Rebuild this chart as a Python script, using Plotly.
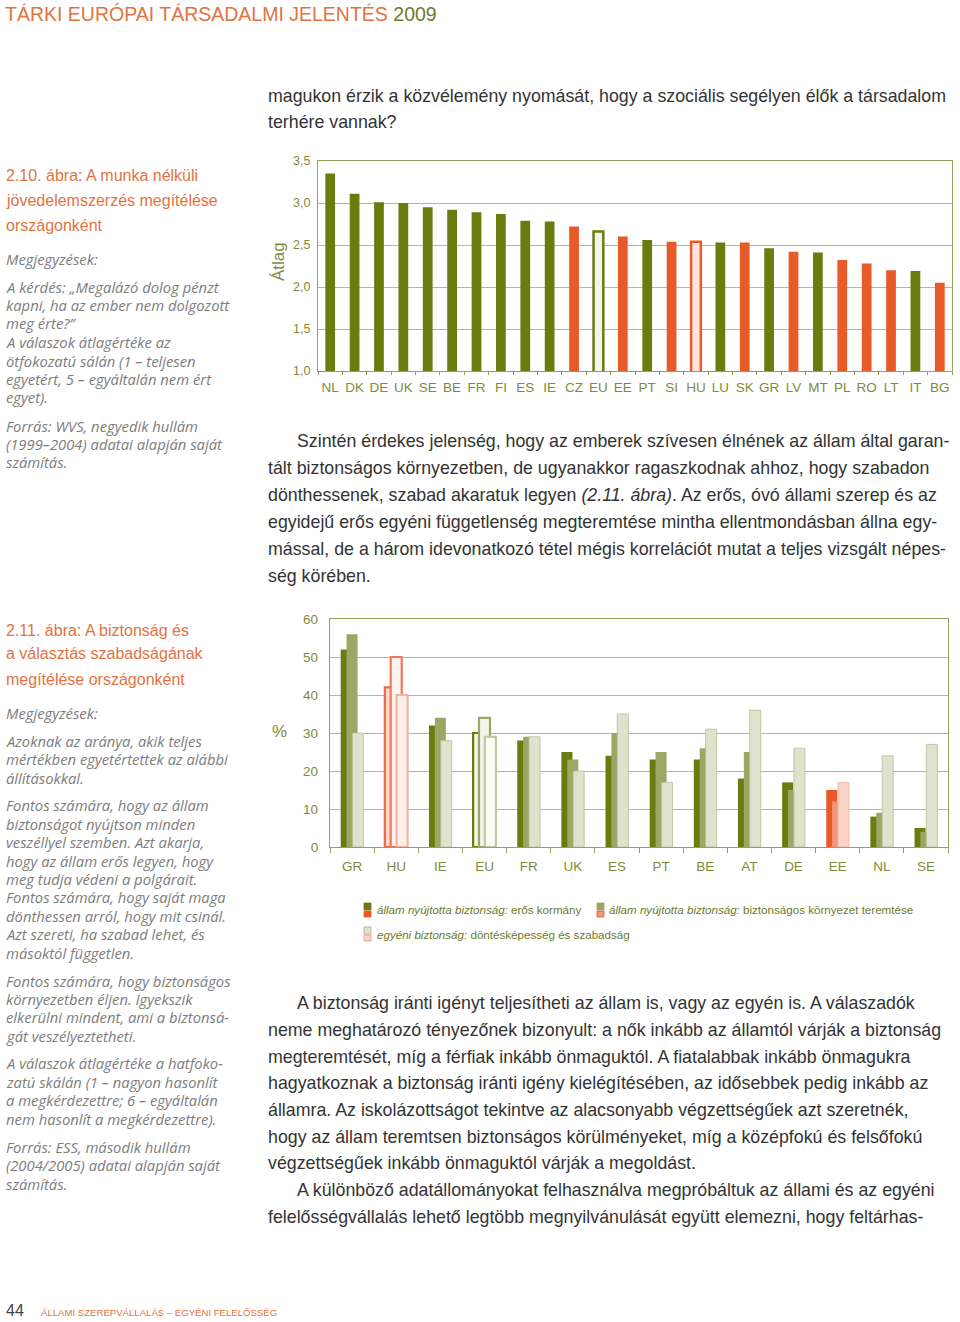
import plotly.graph_objects as go

W, H = 960, 1322

# ---------------- data ----------------
countries1 = ["NL", "DK", "DE", "UK", "SE", "BE", "FR", "FI", "ES", "IE", "CZ", "EU", "EE",
              "PT", "SI", "HU", "LU", "SK", "GR", "LV", "MT", "PL", "RO", "LT", "IT", "BG"]
means1 = [3.35, 3.11, 3.01, 3.00, 2.95, 2.92, 2.89, 2.87, 2.79, 2.78, 2.72, 2.66, 2.60,
          2.56, 2.54, 2.54, 2.53, 2.53, 2.46, 2.42, 2.41, 2.32, 2.28, 2.20, 2.19, 2.05]
orange_countries1 = ["CZ", "EE", "SI", "HU", "SK", "LV", "PL", "RO", "LT", "BG"]
y1_ticks = [1.0, 1.5, 2.0, 2.5, 3.0, 3.5]

countries2 = ["GR", "HU", "IE", "EU", "FR", "UK", "ES", "PT", "BE", "AT", "DE", "EE", "NL", "SE"]
strong_gov = [52, 42, 32, 30, 28, 25, 24, 23, 23, 18, 17, 15, 8, 5]
safe_env = [56, 50, 34, 34, 29, 23, 30, 25, 26, 25, 15, 12, 9, 4]
indiv_free = [30, 40, 28, 29, 29, 20, 35, 17, 31, 36, 26, 17, 24, 27]
orange_countries2 = ["EE"]
y2_ticks = [0, 10, 20, 30, 40, 50, 60]

series_names = [
    "állam nyújtotta biztonság: erős kormány",
    "állam nyújtotta biztonság: biztonságos környezet teremtése",
    "egyéni biztonság: döntésképesség és szabadság",
]

# ---------------- styles ----------------
GREEN = "#6b7b0e"
GREEN2 = "#9ba865"
GREEN3 = "#dfe2cc"
ORANGE = "#e85a27"
ORANGE2 = "#f2957a"
ORANGE3 = "#f9d3c6"
OLIVE_TXT = "#7f8a3c"
GRID = "#b6bb8c"
AXLINE = "#97a05a"
TITLE_OR = "#e27341"
NOTE_GR = "#7d7d7d"
BODY = "#333333"

MAIN = "Liberation Sans, Arial, sans-serif"
SIDE = "Open Sans, sans-serif"

fig = go.Figure()

# chart 1 colours
c1_fill, c1_line, c1_lw = [], [], []
for c in countries1:
    if c == "EU":
        c1_fill.append("#f4f5ea"); c1_line.append(GREEN); c1_lw.append(2.5)
    elif c == "HU":
        c1_fill.append("#fde4dc"); c1_line.append(ORANGE); c1_lw.append(2.5)
    elif c in orange_countries1:
        c1_fill.append(ORANGE); c1_line.append(ORANGE); c1_lw.append(0)
    else:
        c1_fill.append(GREEN); c1_line.append(GREEN); c1_lw.append(0)

fig.add_trace(go.Bar(x=countries1, y=means1, xaxis="x", yaxis="y",
                     marker=dict(color=c1_fill, line=dict(color=c1_line, width=c1_lw)),
                     showlegend=False, hoverinfo="x+y"))

# chart 2 colours
pal_green = [(GREEN, GREEN), (GREEN2, GREEN2), (GREEN3, "#b9be98")]
pal_orange = [(ORANGE, ORANGE), (ORANGE2, ORANGE2), (ORANGE3, "#f2b5a3")]
pal_eu = [("#f4f5ea", GREEN), ("#f4f5ea", GREEN2), ("#fbfbf4", "#c2c6a2")]
pal_hu = [("#fbd9cf", "#ea6a45"), ("#fff3ef", "#ee7a58"), ("#fdf0eb", "#f3b5a3")]

for si, vals in enumerate([strong_gov, safe_env, indiv_free]):
    fills, lines, lws = [], [], []
    for c in countries2:
        if c == "EU":
            f, l = pal_eu[si]; w = 2.2
        elif c == "HU":
            f, l = pal_hu[si]; w = 2.2
        elif c in orange_countries2:
            f, l = pal_orange[si]; w = 0.8 if si == 2 else 0
        else:
            f, l = pal_green[si]; w = 0.8 if si == 2 else 0
        fills.append(f); lines.append(l); lws.append(w)
    fig.add_trace(go.Bar(x=countries2, y=vals, name=series_names[si], xaxis="x2", yaxis="y2",
                         width=0.25,
                         marker=dict(color=fills, line=dict(color=lines, width=lws)),
                         showlegend=False))


def px(xp):
    return xp / W


def py(yp):
    return 1 - yp / H


axis_common = dict(showline=True, linecolor=AXLINE, linewidth=1.3, mirror=True,
                   fixedrange=True, automargin=False)

fig.update_layout(
    width=W, height=H,
    margin=dict(l=0, r=0, t=0, b=0, pad=0, autoexpand=False),
    paper_bgcolor="white", plot_bgcolor="white",
    separators=", ",
    barmode="group",
    bargap=0.6,
    font=dict(family=MAIN, color=OLIVE_TXT),
    xaxis=dict(domain=[px(318), px(952)], anchor="y", **axis_common,
               ticks="outside", tickson="boundaries", ticklen=3, tickcolor=AXLINE,
               tickangle=0, ticklabelstandoff=4,
               tickfont=dict(size=13.5, color=OLIVE_TXT, family=MAIN), showgrid=False),
    yaxis=dict(domain=[py(371), py(161)], anchor="x", range=[1, 3.5], tickvals=y1_ticks,
               tickformat=".1f", **axis_common, showgrid=True, gridcolor=GRID, gridwidth=1.2,
               ticks="", ticklabelstandoff=4,
               tickfont=dict(size=12.5, color=OLIVE_TXT, family=MAIN)),
    xaxis2=dict(domain=[px(330), px(948)], anchor="y2", **axis_common,
                ticks="outside", tickson="boundaries", ticklen=5, tickcolor=AXLINE,
                tickangle=0, ticklabelstandoff=7,
                tickfont=dict(size=13.5, color=OLIVE_TXT, family=MAIN), showgrid=False),
    yaxis2=dict(domain=[py(847), py(619)], anchor="x2", range=[0, 60], tickvals=y2_ticks,
                **axis_common, showgrid=True, gridcolor=GRID, gridwidth=1.2,
                ticks="", ticklabelstandoff=8,
                tickfont=dict(size=13.5, color=OLIVE_TXT, family=MAIN)),
)

annotations = []


def txt(x, y, s, size, color, family=MAIN, italic=False, anchor="left", angle=0):
    annotations.append(dict(x=px(x), y=py(y), xref="paper", yref="paper", text=s,
                            showarrow=False, xanchor=anchor, yanchor="middle",
                            textangle=angle, borderpad=0, borderwidth=0,
                            font=dict(size=size, color=color, family=family,
                                      style="italic" if italic else "normal")))


BODY_SIZE = 17.8
# header
txt(5, 14, "TÁRKI EURÓPAI TÁRSADALMI JELENTÉS <span style='color:#6f7a2c'>2009</span>",
    19.5, TITLE_OR)

# top body text
txt(268, 96, "magukon érzik a közvélemény nyomását, hogy a szociális segélyen élők a társadalom", BODY_SIZE, BODY)
txt(268, 122, "terhére vannak?", BODY_SIZE, BODY)

# axis titles
txt(279, 262, "Átlag", 17, OLIVE_TXT, anchor="center", angle=-90)
txt(279, 731, "%", 17, OLIVE_TXT, anchor="center")

# sidebar 1
for y, s in [(176, "2.10. ábra: A munka nélküli"), (200, "jövedelemszerzés megítélése"),
             (225, "országonként")]:
    txt(6, y, s, 16, TITLE_OR)
side1 = [(259, "Megjegyzések:"),
         (287, "A kérdés: „Megalázó dolog pénzt"),
         (305, "kapni, ha az ember nem dolgozott"),
         (323, "meg érte?”"),
         (342, "A válaszok átlagértéke az"),
         (361, "ötfokozatú sálán (1 – teljesen"),
         (379, "egyetért, 5 – egyáltalán nem ért"),
         (397, "egyet)."),
         (426, "Forrás: WVS, negyedik hullám"),
         (444, "(1999–2004) adatai alapján saját"),
         (462, "számítás.")]
for y, s in side1:
    txt(6, y, s, 14.8, NOTE_GR, family=SIDE, italic=True)

# body paragraph 1
para1 = [(297, 441, "Szintén érdekes jelenség, hogy az emberek szívesen élnének az állam által garan-"),
         (268, 468, "tált biztonságos környezetben, de ugyanakkor ragaszkodnak ahhoz, hogy szabadon"),
         (268, 495, "dönthessenek, szabad akaratuk legyen <i>(2.11. ábra)</i>. Az erős, óvó állami szerep és az"),
         (268, 522, "egyidejű erős egyéni függetlenség megteremtése mintha ellentmondásban állna egy-"),
         (268, 549, "mással, de a három idevonatkozó tétel mégis korrelációt mutat a teljes vizsgált népes-"),
         (268, 576, "ség körében.")]
for x, y, s in para1:
    txt(x, y, s, BODY_SIZE, BODY)

# sidebar 2
for y, s in [(630, "2.11. ábra: A biztonság és"), (654, "a választás szabadságának"),
             (679, "megítélése országonként")]:
    txt(6, y, s, 16, TITLE_OR)
side2 = [(713, "Megjegyzések:"),
         (741, "Azoknak az aránya, akik teljes"),
         (759, "mértékben egyetértettek az alábbi"),
         (778, "állításokkal."),
         (805, "Fontos számára, hogy az állam"),
         (824, "biztonságot nyújtson minden"),
         (842, "veszéllyel szemben. Azt akarja,"),
         (861, "hogy az állam erős legyen, hogy"),
         (879, "meg tudja védeni a polgárait."),
         (897, "Fontos számára, hogy saját maga"),
         (916, "dönthessen arról, hogy mit csinál."),
         (934, "Azt szereti, ha szabad lehet, és"),
         (953, "másoktól független."),
         (981, "Fontos számára, hogy biztonságos"),
         (999, "környezetben éljen. Igyekszik"),
         (1017, "elkerülni mindent, ami a biztonsá-"),
         (1036, "gát veszélyeztetheti."),
         (1063, "A válaszok átlagértéke a hatfoko-"),
         (1082, "zatú skálán (1 – nagyon hasonlít"),
         (1100, "a megkérdezettre; 6 – egyáltalán"),
         (1119, "nem hasonlít a megkérdezettre)."),
         (1147, "Forrás: ESS, második hullám"),
         (1165, "(2004/2005) adatai alapján saját"),
         (1184, "számítás.")]
for y, s in side2:
    txt(6, y, s, 14.8, NOTE_GR, family=SIDE, italic=True)

# legend texts
parts = [s.split(": ") for s in series_names]
txt(377, 910, "<i>%s:</i> %s" % tuple(parts[0]), 11.6, "#6e7a2a")
txt(609, 910, "<i>%s:</i> %s" % tuple(parts[1]), 11.6, "#6e7a2a")
txt(377, 934, "<i>%s:</i> %s" % tuple(parts[2]), 11.6, "#6e7a2a")

# body paragraph 2
para2 = [(297, 1003, "A biztonság iránti igényt teljesítheti az állam is, vagy az egyén is. A válaszadók"),
         (268, 1030, "neme meghatározó tényezőnek bizonyult: a nők inkább az államtól várják a biztonság"),
         (268, 1057, "megteremtését, míg a férfiak inkább önmaguktól. A fiatalabbak inkább önmagukra"),
         (268, 1083, "hagyatkoznak a biztonság iránti igény kielégítésében, az idősebbek pedig inkább az"),
         (268, 1110, "államra. Az iskolázottságot tekintve az alacsonyabb végzettségűek azt szeretnék,"),
         (268, 1137, "hogy az állam teremtsen biztonságos körülményeket, míg a középfokú és felsőfokú"),
         (268, 1163, "végzettségűek inkább önmaguktól várják a megoldást."),
         (297, 1190, "A különböző adatállományokat felhasználva megpróbáltuk az állami és az egyéni"),
         (268, 1217, "felelősségvállalás lehető legtöbb megnyilvánulását együtt elemezni, hogy feltárhas-")]
for x, y, s in para2:
    txt(x, y, s, BODY_SIZE, BODY)

# footer
txt(6, 1310, "44", 16, "#444444")
txt(41, 1312, "ÁLLAMI SZEREPVÁLLALÁS – EGYÉNI FELELŐSSÉG", 9.6, TITLE_OR)

fig.update_layout(annotations=annotations)

# legend swatches (split colour squares)
shapes = []


def swatch(x, y, top, bottom, top_line, bottom_line):
    shapes.append(dict(type="rect", xref="paper", yref="paper", x0=px(x), x1=px(x + 7),
                       y0=py(y), y1=py(y - 7), fillcolor=top,
                       line=dict(color=top_line, width=0.8)))
    shapes.append(dict(type="rect", xref="paper", yref="paper", x0=px(x), x1=px(x + 7),
                       y0=py(y + 7), y1=py(y + 1), fillcolor=bottom,
                       line=dict(color=bottom_line, width=0.8)))


swatch(364, 910, GREEN, ORANGE, GREEN, ORANGE)
swatch(597, 910, GREEN2, ORANGE2, GREEN2, ORANGE)
swatch(364, 934, GREEN3, ORANGE3, "#a9ae88", "#ee9a80")
fig.update_layout(shapes=shapes)

fig.write_html("out.html",
               config={"displayModeBar": False},
               post_script="document.body.style.margin='0';document.body.style.padding='0';"
                           "document.body.style.overflow='hidden';")
